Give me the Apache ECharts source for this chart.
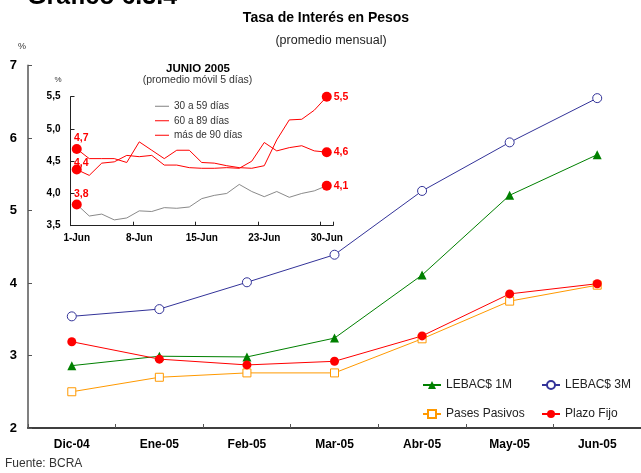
<!DOCTYPE html>
<html>
<head>
<meta charset="utf-8">
<script src="https://cdn.jsdelivr.net/npm/echarts@6/dist/echarts.min.js"></script>
<style>html,body{margin:0;padding:0;background:#fff;}#c{width:641px;height:473px;}</style>
</head>
<body>
<div id="c"></div>
<script>
// Main chart data (monthly average, %)
const months = ['Dic-04','Ene-05','Feb-05','Mar-05','Abr-05','May-05','Jun-05'];
const lebac1m = [2.86, 2.99, 2.98, 3.24, 4.11, 5.21, 5.77];
const lebac3m = [3.54, 3.64, 4.01, 4.39, 5.27, 5.94, 6.55];
const pasesPasivos = [2.50, 2.70, 2.76, 2.76, 3.23, 3.75, 3.97];
const plazoFijo = [3.19, 2.95, 2.87, 2.92, 3.27, 3.85, 3.99];
const mainTicks = [2, 3, 4, 5, 6, 7];

// Inset data (June 2005, 5-day moving average, %)
const days = ['1-Jun','2-Jun','3-Jun','6-Jun','7-Jun','8-Jun','9-Jun','10-Jun','13-Jun','14-Jun','15-Jun',
              '16-Jun','17-Jun','21-Jun','22-Jun','23-Jun','24-Jun','27-Jun','28-Jun','29-Jun','30-Jun'];
const d30a59 = [3.83,3.65,3.68,3.59,3.62,3.73,3.72,3.78,3.77,3.79,3.92,3.97,4.00,4.14,4.03,3.95,4.03,3.94,4.00,4.04,4.12];
const d60a89 = [4.37,4.28,4.47,4.49,4.59,4.57,4.59,4.44,4.44,4.40,4.39,4.39,4.40,4.39,4.50,4.79,4.66,4.71,4.74,4.66,4.64];
const dMas90 = [4.69,4.54,4.54,4.54,4.48,4.80,4.67,4.54,4.67,4.67,4.48,4.47,4.43,4.40,4.39,4.43,4.83,5.14,5.15,5.29,5.50];

const FONT = 'Arial, "Liberation Sans", sans-serif';
const RED = '#FF0000';
const fmt = v => v.toFixed(1).replace('.', ',');

function endData(arr, startOffsetY) {
  const last = arr.length - 1;
  return arr.map((v, i) => {
    if (i === 0) {
      return { value: v, symbol: 'circle', symbolSize: 10, itemStyle: { color: RED },
        label: { show: true, position: 'top', distance: 0, offset: [4.5, startOffsetY],
          formatter: () => fmt(v), color: RED, fontWeight: 'bold', fontSize: 10.5, fontFamily: FONT } };
    }
    if (i === last) {
      return { value: v, symbol: 'circle', symbolSize: 10, itemStyle: { color: RED },
        label: { show: true, position: 'right', distance: 2,
          formatter: () => fmt(v), color: RED, fontWeight: 'bold', fontSize: 10.5, fontFamily: FONT } };
    }
    return { value: v, symbol: 'none', symbolSize: 0 };
  });
}

const chart = echarts.init(document.getElementById('c'), null, { renderer: 'canvas' });

const option = {
  backgroundColor: '#fff',
  animation: false,
  textStyle: { fontFamily: FONT },
  grid: [
    { left: 28, top: 65.5, width: 614, height: 362.5, containLabel: false },
    { left: 70.5, top: 96.7, width: 262.5, height: 129, containLabel: false }
  ],
  xAxis: [
    { type: 'category', gridIndex: 0, data: months, boundaryGap: true,
      axisLine: { lineStyle: { color: '#000', width: 1.5 } },
      axisTick: { show: true, inside: true, length: 4, lineStyle: { color: '#555', width: 1 } },
      axisLabel: { color: '#000', fontWeight: 'bold', fontSize: 12, margin: 11, fontFamily: FONT },
      splitLine: { show: false } },
    { type: 'category', gridIndex: 1, data: days, boundaryGap: true,
      axisLine: { lineStyle: { color: '#222', width: 1 } },
      axisTick: { show: true, inside: true, length: 4, interval: 4, lineStyle: { color: '#222', width: 1 } },
      axisLabel: { color: '#000', fontWeight: 'bold', fontSize: 10, margin: 8, interval: 4, fontFamily: FONT },
      splitLine: { show: false } }
  ],
  yAxis: [
    { type: 'value', gridIndex: 0, min: mainTicks[0], max: mainTicks[mainTicks.length - 1], interval: 1,
      axisLine: { show: true, lineStyle: { color: '#808080', width: 2 } },
      axisTick: { show: true, inside: true, length: 4, lineStyle: { color: '#555', width: 1 } },
      axisLabel: { color: '#000', fontWeight: 'bold', fontSize: 13, margin: 11, fontFamily: FONT },
      splitLine: { show: false } },
    { type: 'value', gridIndex: 1, min: 3.5, max: 5.5, interval: 0.5,
      axisLine: { show: true, lineStyle: { color: '#222', width: 1 } },
      axisTick: { show: true, inside: true, length: 4, lineStyle: { color: '#222', width: 1 } },
      axisLabel: { color: '#000', fontWeight: 'bold', fontSize: 10, margin: 10, fontFamily: FONT,
        formatter: v => fmt(v) },
      splitLine: { show: false } }
  ],
  legend: [
    { orient: 'vertical', left: 417, top: 373, itemWidth: 18, itemHeight: 10, itemGap: 15,
      data: ['LEBAC$ 1M', 'Pases Pasivos'],
      textStyle: { color: '#222', fontSize: 12, lineHeight: 14, fontFamily: FONT } },
    { orient: 'vertical', left: 536, top: 373, itemWidth: 18, itemHeight: 10, itemGap: 15,
      data: ['LEBAC$ 3M', 'Plazo Fijo'],
      textStyle: { color: '#222', fontSize: 12, lineHeight: 14, fontFamily: FONT } },
    { orient: 'vertical', left: 150, top: 94, itemWidth: 14, itemHeight: 1, itemGap: 0, icon: 'rect',
      data: ['30 a 59 días', '60 a 89 días', 'más de 90 días'],
      textStyle: { color: '#333', fontSize: 10, lineHeight: 14.5, fontFamily: FONT } }
  ],
  series: [
    { name: 'LEBAC$ 1M', type: 'line', xAxisIndex: 0, yAxisIndex: 0, data: lebac1m,
      color: '#008000', lineStyle: { color: '#008000', width: 1 },
      symbol: 'triangle', symbolSize: 9, itemStyle: { color: '#008000' }, showAllSymbol: true },
    { name: 'LEBAC$ 3M', type: 'line', xAxisIndex: 0, yAxisIndex: 0, data: lebac3m,
      color: '#333399', lineStyle: { color: '#333399', width: 1 },
      symbol: 'circle', symbolSize: 9, itemStyle: { color: '#fff', borderColor: '#333399', borderWidth: 1 }, showAllSymbol: true },
    { name: 'Pases Pasivos', type: 'line', xAxisIndex: 0, yAxisIndex: 0, data: pasesPasivos,
      color: '#FF9900', lineStyle: { color: '#FF9900', width: 1 },
      symbol: 'rect', symbolSize: 8, itemStyle: { color: '#fff', borderColor: '#FF9900', borderWidth: 1 }, showAllSymbol: true },
    { name: 'Plazo Fijo', type: 'line', xAxisIndex: 0, yAxisIndex: 0, data: plazoFijo,
      color: RED, lineStyle: { color: RED, width: 1 },
      symbol: 'circle', symbolSize: 9, itemStyle: { color: RED }, showAllSymbol: true },

    { name: '30 a 59 días', type: 'line', xAxisIndex: 1, yAxisIndex: 1, data: endData(d30a59, 0),
      color: '#808080', lineStyle: { color: '#8a8a8a', width: 1 }, itemStyle: { color: '#808080' },
      symbol: 'none', showSymbol: true, showAllSymbol: true, clip: false, z: 5 },
    { name: '60 a 89 días', type: 'line', xAxisIndex: 1, yAxisIndex: 1, data: endData(d60a89, 4),
      color: RED, lineStyle: { color: RED, width: 1 }, itemStyle: { color: RED },
      symbol: 'none', showSymbol: true, showAllSymbol: true, clip: false, z: 5 },
    { name: 'más de 90 días', type: 'line', xAxisIndex: 1, yAxisIndex: 1, data: endData(dMas90, 0),
      color: RED, lineStyle: { color: RED, width: 1 }, itemStyle: { color: RED },
      symbol: 'none', showSymbol: true, showAllSymbol: true, clip: false, z: 5 }
  ],
  graphic: [
    { type: 'text', style: { text: 'Gráfico 6.3.4', x: 27, y: 10, align: 'left', verticalAlign: 'bottom', fill: '#000', font: 'bold 25px ' + FONT } },
    { type: 'text', style: { text: 'Tasa de Interés en Pesos', x: 326, y: 18, align: 'center', verticalAlign: 'middle', fill: '#000', font: 'bold 14px ' + FONT } },
    { type: 'text', style: { text: '(promedio mensual)', x: 331, y: 41, align: 'center', verticalAlign: 'middle', fill: '#222', font: '12.5px ' + FONT } },
    { type: 'text', style: { text: '%', x: 22, y: 47, align: 'center', verticalAlign: 'middle', fill: '#333', font: '9px ' + FONT } },
    { type: 'text', style: { text: 'JUNIO 2005', x: 198, y: 69, align: 'center', verticalAlign: 'middle', fill: '#000', font: 'bold 11.5px ' + FONT } },
    { type: 'text', style: { text: '(promedio móvil 5 días)', x: 197.5, y: 80, align: 'center', verticalAlign: 'middle', fill: '#333', font: '10.5px ' + FONT } },
    { type: 'text', style: { text: '%', x: 58, y: 80, align: 'center', verticalAlign: 'middle', fill: '#333', font: '8px ' + FONT } },
    { type: 'text', style: { text: 'Fuente: BCRA', x: 5, y: 464, align: 'left', verticalAlign: 'middle', fill: '#333', font: '12px ' + FONT } }
  ]
};
chart.setOption(option);
</script>
</body>
</html>
